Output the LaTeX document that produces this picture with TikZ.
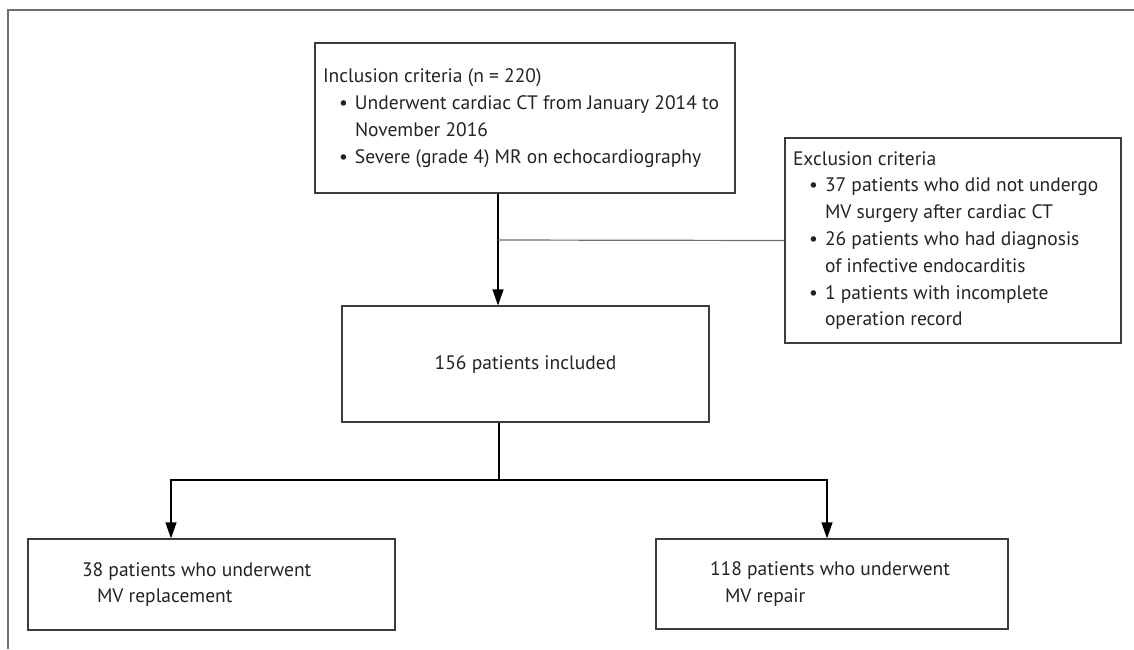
\documentclass[tikz,border=0pt]{standalone}
\usepackage{fontspec}
\setmainfont{PT Sans}
\usepackage{tikz}
\usetikzlibrary{positioning,arrows.meta}
\definecolor{boxcolor}{RGB}{60,60,60}
\definecolor{framecolor}{RGB}{110,110,110}
\definecolor{txtcolor}{RGB}{35,35,35}
% line starts: bullet item and its continuation
\newcommand{\bul}{\makebox[32pt][l]{\hspace{16pt}\textbullet}}
\newcommand{\cont}{\makebox[32pt]{}}
\newcommand{\boxtext}[2]{\parbox{#1}{\raggedright #2}}

\begin{document}
\begin{tikzpicture}[%
    x=1pt, y=-1pt,                      % Pixel-like units, y goes down
    >={Triangle[width=11pt,length=16pt]},
    line width=1.2pt,
    ]
\tikzset{
  base/.style={draw=boxcolor, rectangle, inner xsep=8pt,
    text=txtcolor, font=\fontsize{19.5}{26.8}\selectfont},
  crit/.style={base},
  res/.style={base},
  norm/.style={draw=black},
}
\useasboundingbox (0,0) rectangle (1134,649);
\draw [framecolor] (8,649) -- (8,10) -- (1134,10);

\node [crit, minimum height=150pt] (p0) at (525,118)
  {\boxtext{404pt}{Inclusion criteria (n = 220)\\
   \bul\mbox{Underwent cardiac CT from January 2014 to}\\
   \cont November 2016\\
   \bul Severe (grade 4) MR on echocardiography}};
\node [crit, minimum height=205pt] (p1) at (953,240.5)
  {\boxtext{320pt}{Exclusion criteria\\
   \bul 37 patients who did not undergo\\
   \cont MV surgery after cardiac CT\\
   \bul 26 patients who had diagnosis\\
   \cont of infective endocarditis\\
   \bul 1 patients with incomplete\\
   \cont operation record}};
\node [base, minimum width=367pt, minimum height=116pt] (p2) at (525.5,364)
  {156 patients included};
\node [res, minimum height=91pt] (p3) at (211.5,584.5)
  {\boxtext{351pt}{\makebox[46pt]{}38 patients who underwent\\
   \makebox[61pt]{}MV replacement}};
\node [res, minimum height=90pt] (p4) at (832,584)
  {\boxtext{336pt}{\makebox[46pt]{}118 patients who underwent\\
   \makebox[61pt]{}MV repair}};

\coordinate (j0) at (498,240);
\coordinate (j1) at (499,480);
\coordinate (j2) at (171,480);
\coordinate (j3) at (827,480);

\draw [norm] (p0.south -| j0) -- (j0);
\draw [norm,->] (j0) -- (j0 |- p2.north);
\draw [framecolor] (j0) -- (p1.west);

\draw [norm] (p2.south -| j1) -- (j1);
\draw [norm,->] (j1) -- (j2) -- (j2 |- p3.north);
\draw [norm,->] (j1) -- (j3) -- (j3 |- p4.north);

\end{tikzpicture}
\end{document}
